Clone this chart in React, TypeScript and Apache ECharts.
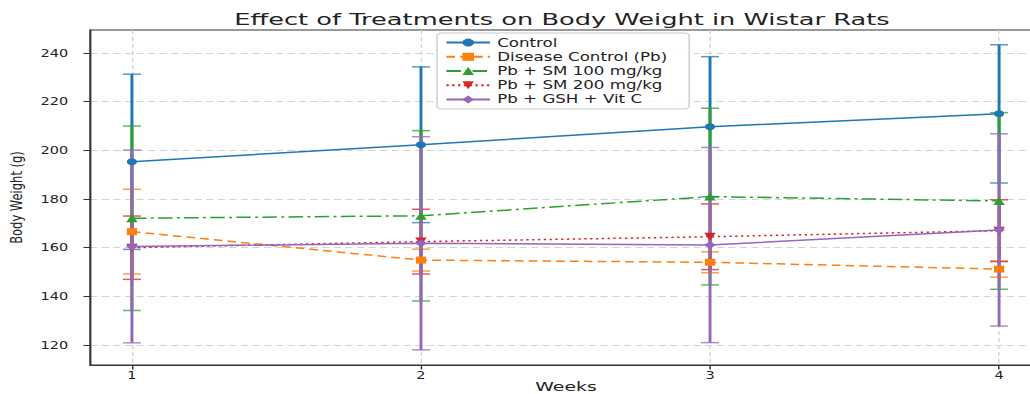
import React, { useEffect, useRef } from "react";
import * as echarts from "echarts";

// ---------- data ----------
const weeks = [1, 2, 3, 4];
const xTicks = [1, 2, 3, 4];
const yTicks = [120, 140, 160, 180, 200, 220, 240];

const seriesNames = [
  "Control",
  "Disease Control (Pb)",
  "Pb + SM 100 mg/kg",
  "Pb + SM 200 mg/kg",
  "Pb + GSH + Vit C",
];

const controlMean = [195.3, 202.3, 209.7, 215.0];
const controlSD = [36.0, 32.0, 28.8, 28.4];
const diseaseMean = [166.6, 154.9, 154.0, 151.2];
const diseaseSD = [17.4, 4.5, 4.3, 3.3];
const sm100Mean = [172.1, 173.1, 181.0, 179.2];
const sm100SD = [37.9, 35.0, 36.3, 36.3];
const sm200Mean = [160.0, 162.5, 164.5, 167.0];
const sm200SD = [13.0, 13.3, 13.5, 12.7];
const gshMean = [160.5, 161.8, 161.1, 167.3];
const gshSD = [39.6, 43.8, 40.1, 39.5];

const titleText = "Effect of Treatments on Body Weight in Wistar Rats";
const xName = "Weeks";
const yName = "Body Weight (g)";

// ---------- styling ----------
const colors = ["#1f77b4", "#ff7f0e", "#2ca02c", "#d62728", "#9467bd"];
const symbols = ["circle", "rect", "triangle", "path://M0,0 L10,0 L5,10 Z", "diamond"];
const symbolSizes = [7, 7, 8, 8, 8];
const lineTypes: any[] = ["solid", [6, 3.5], [10, 3, 2, 3], [1.6, 2.4], "solid"];

const CHART_W = 710;
const S = 1030 / CHART_W;
const FONT = "DejaVu Sans";

export default function App() {
  const ref = useRef<HTMLDivElement>(null);

  useEffect(() => {
    const chart = echarts.init(ref.current!, null, { renderer: "svg" });
    const means = [controlMean, diseaseMean, sm100Mean, sm200Mean, gshMean];
    const sds = [controlSD, diseaseSD, sm100SD, sm200SD, gshSD];

    const errSeries = means.map((m, i) => ({
      type: "custom",
      name: seriesNames[i] + " error",
      coordinateSystem: "cartesian2d",
      z: 1,
      silent: true,
      encode: { x: 0, y: 1 },
      data: weeks.map((w, k) => [w, m[k], sds[i][k]]),
      renderItem: (params: any, api: any) => {
        const x = api.value(0);
        const mv = api.value(1);
        const e = api.value(2);
        const top = api.coord([x, mv + e]);
        const bot = api.coord([x, mv - e]);
        const hw = 6.2;
        return {
          type: "group",
          children: [
            {
              type: "line",
              shape: { x1: top[0], y1: top[1], x2: bot[0], y2: bot[1] },
              style: { stroke: colors[i], lineWidth: 2 },
            },
            {
              type: "line",
              shape: { x1: top[0] - hw, y1: top[1], x2: top[0] + hw, y2: top[1] },
              style: { stroke: colors[i], lineWidth: 1.5, opacity: 0.75 },
            },
            {
              type: "line",
              shape: { x1: bot[0] - hw, y1: bot[1], x2: bot[0] + hw, y2: bot[1] },
              style: { stroke: colors[i], lineWidth: 1.5, opacity: 0.75 },
            },
          ],
        };
      },
    }));

    const lineSeries = means.map((m, i) => ({
      type: "line",
      name: seriesNames[i],
      z: 3,
      data: weeks.map((w, k) => [w, m[k]]),
      symbol: symbols[i],
      symbolSize: symbolSizes[i],
      showAllSymbol: true,
      itemStyle: { color: colors[i] },
      lineStyle: { color: colors[i], width: 1.5, type: lineTypes[i] },
    }));

    const option: any = {
      animation: false,
      backgroundColor: "#ffffff",
      textStyle: { fontFamily: FONT },
      graphic: [
        {
          type: "text",
          x: 562 / S,
          y: 20,
          scaleX: 1.18,
          style: {
            text: titleText,
            fontFamily: FONT,
            fontSize: 15,
            fill: "#222",
            align: "center",
            verticalAlign: "middle",
          },
          z: 10,
        },
        {
          type: "text",
          x: 566 / S,
          y: 393,
          style: {
            text: xName,
            fontFamily: FONT,
            fontSize: 13,
            fill: "#222",
            align: "center",
            verticalAlign: "bottom",
          },
          z: 10,
        },
      ],
      legend: {
        data: seriesNames,
        orient: "vertical",
        left: 437 / S,
        top: 33,
        padding: [2.5, 15, 2.5, 5.5],
        itemGap: 0,
        itemWidth: 30,
        itemHeight: 10,
        backgroundColor: "rgba(255,255,255,0.85)",
        borderColor: "#cccccc",
        borderWidth: 1,
        borderRadius: 3,
        textStyle: { fontFamily: FONT, fontSize: 11.5, color: "#222", lineHeight: 14.2 },
      },
      grid: {
        show: true,
        left: 90 / S,
        top: 30,
        width: 951 / S,
        height: 335,
        outerBoundsMode: "none",
        containLabel: false,
        borderColor: "#333",
        borderWidth: 1,
        backgroundColor: "transparent",
      },
      xAxis: {
        type: "value",
        min: 0.855,
        max: 4.145,
        axisLine: { show: true, lineStyle: { color: "#333", width: 1 } },
        axisTick: { show: true, length: 4.5, customValues: xTicks, lineStyle: { color: "#333" } },
        axisLabel: { customValues: xTicks, margin: 5, fontSize: 10, color: "#222", fontFamily: FONT },
        splitLine: { show: true, lineStyle: { color: "#d4d4d4", type: [4, 3], width: 1 } },
      },
      yAxis: {
        type: "value",
        min: 111.8,
        max: 249.45,
        name: yName,
        nameLocation: "middle",
        nameGap: 40,
        nameTextStyle: { fontFamily: FONT, fontSize: 11.5, color: "#222" },
        axisLine: { show: true, lineStyle: { color: "#333", width: 1 } },
        axisTick: { show: true, length: 4.5, customValues: yTicks, lineStyle: { color: "#333" } },
        axisLabel: { customValues: yTicks, margin: 15, fontSize: 10, color: "#222", fontFamily: FONT },
        splitLine: { show: true, lineStyle: { color: "#d4d4d4", type: [5, 3], width: 1 } },
      },
      series: [...errSeries, ...lineSeries],
    };

    chart.setOption(option);
    return () => chart.dispose();
  }, []);

  return (
    <div
      style={{
        position: "fixed",
        left: 0,
        top: 0,
        width: 1030,
        height: 394,
        overflow: "hidden",
        background: "#fff",
      }}
    >
      <div
        ref={ref}
        style={{
          width: CHART_W,
          height: 394,
          transform: `scaleX(${S})`,
          transformOrigin: "0 0",
        }}
      />
    </div>
  );
}
